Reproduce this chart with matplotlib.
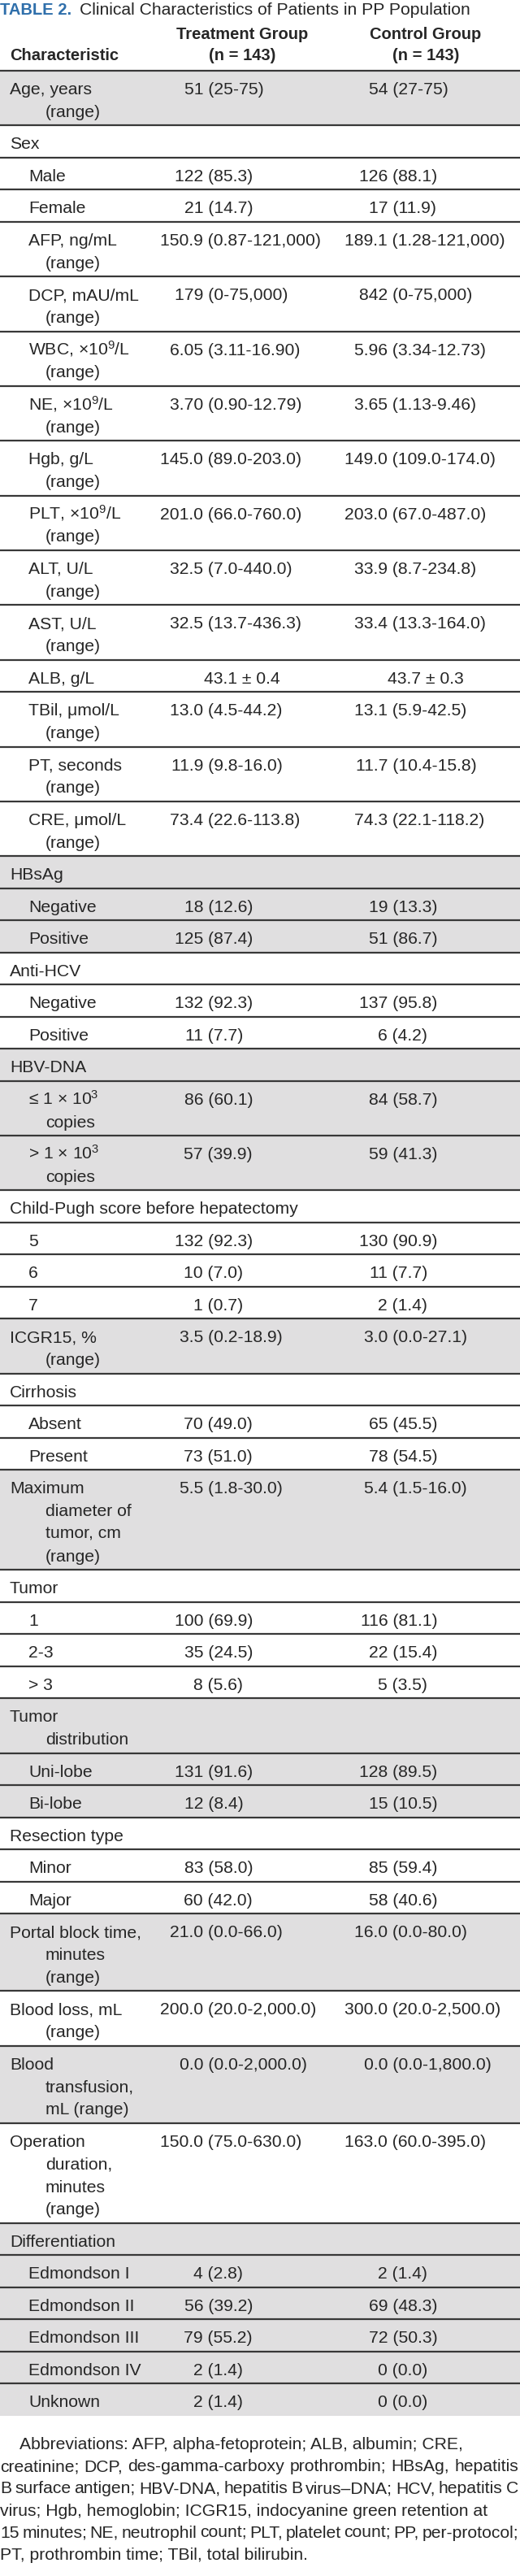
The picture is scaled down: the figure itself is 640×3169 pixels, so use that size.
import matplotlib
matplotlib.use('Agg')
import matplotlib.pyplot as plt
from matplotlib import font_manager as fm
from matplotlib.font_manager import FontProperties
from matplotlib.patches import Rectangle

# table content
table_tag = 'TABLE 2.'
table_title = 'Clinical Characteristics of Patients in PP Population'
header_label = 'Characteristic'
group_names = ['Treatment Group', 'Control Group']
group_sizes = ['(n = 143)', '(n = 143)']

characteristics = [
    'Age, years\n(range)', 'Sex', 'Male', 'Female',
    'AFP, ng/mL\n(range)', 'DCP, mAU/mL\n(range)',
    'WBC, ×10$^{9}$/L\n(range)', 'NE, ×10$^{9}$/L\n(range)',
    'Hgb, g/L\n(range)', 'PLT, ×10$^{9}$/L\n(range)',
    'ALT, U/L\n(range)', 'AST, U/L\n(range)', 'ALB, g/L',
    'TBil, μmol/L\n(range)', 'PT, seconds\n(range)', 'CRE, μmol/L\n(range)',
    'HBsAg', 'Negative', 'Positive',
    'Anti-HCV', 'Negative', 'Positive',
    'HBV-DNA', '≤ 1 × 10$^{3}$\ncopies', '> 1 × 10$^{3}$\ncopies',
    'Child-Pugh score before hepatectomy', '5', '6', '7',
    'ICGR15, %\n(range)',
    'Cirrhosis', 'Absent', 'Present',
    'Maximum\ndiameter of\ntumor, cm\n(range)',
    'Tumor', '1', '2-3', '> 3',
    'Tumor\ndistribution', 'Uni-lobe', 'Bi-lobe',
    'Resection type', 'Minor', 'Major',
    'Portal block time,\nminutes\n(range)',
    'Blood loss, mL\n(range)',
    'Blood\ntransfusion,\nmL (range)',
    'Operation\nduration,\nminutes\n(range)',
    'Differentiation', 'Edmondson I', 'Edmondson II', 'Edmondson III',
    'Edmondson IV', 'Unknown',
]
is_subrow = [
    False, False, True, True,
    True, True, True, True, True, True, True, True, True, True, True, True,
    False, True, True,
    False, True, True,
    False, True, True,
    False, True, True, True,
    False,
    False, True, True,
    False,
    False, True, True, True,
    False, True, True,
    False, True, True,
    False, False, False, False,
    False, True, True, True, True, True,
]
treatment = [
    '51 (25-75)', '', '122 (85.3)', '21 (14.7)',
    '150.9 (0.87-121,000)', '179 (0-75,000)',
    '6.05 (3.11-16.90)', '3.70 (0.90-12.79)',
    '145.0 (89.0-203.0)', '201.0 (66.0-760.0)',
    '32.5 (7.0-440.0)', '32.5 (13.7-436.3)', '43.1 ± 0.4',
    '13.0 (4.5-44.2)', '11.9 (9.8-16.0)', '73.4 (22.6-113.8)',
    '', '18 (12.6)', '125 (87.4)',
    '', '132 (92.3)', '11 (7.7)',
    '', '86 (60.1)', '57 (39.9)',
    '', '132 (92.3)', '10 (7.0)', '1 (0.7)',
    '3.5 (0.2-18.9)',
    '', '70 (49.0)', '73 (51.0)',
    '5.5 (1.8-30.0)',
    '', '100 (69.9)', '35 (24.5)', '8 (5.6)',
    '', '131 (91.6)', '12 (8.4)',
    '', '83 (58.0)', '60 (42.0)',
    '21.0 (0.0-66.0)',
    '200.0 (20.0-2,000.0)',
    '0.0 (0.0-2,000.0)',
    '150.0 (75.0-630.0)',
    '', '4 (2.8)', '56 (39.2)', '79 (55.2)', '2 (1.4)', '2 (1.4)',
]
control = [
    '54 (27-75)', '', '126 (88.1)', '17 (11.9)',
    '189.1 (1.28-121,000)', '842 (0-75,000)',
    '5.96 (3.34-12.73)', '3.65 (1.13-9.46)',
    '149.0 (109.0-174.0)', '203.0 (67.0-487.0)',
    '33.9 (8.7-234.8)', '33.4 (13.3-164.0)', '43.7 ± 0.3',
    '13.1 (5.9-42.5)', '11.7 (10.4-15.8)', '74.3 (22.1-118.2)',
    '', '19 (13.3)', '51 (86.7)',
    '', '137 (95.8)', '6 (4.2)',
    '', '84 (58.7)', '59 (41.3)',
    '', '130 (90.9)', '11 (7.7)', '2 (1.4)',
    '3.0 (0.0-27.1)',
    '', '65 (45.5)', '78 (54.5)',
    '5.4 (1.5-16.0)',
    '', '116 (81.1)', '22 (15.4)', '5 (3.5)',
    '', '128 (89.5)', '15 (10.5)',
    '', '85 (59.4)', '58 (40.6)',
    '16.0 (0.0-80.0)',
    '300.0 (20.0-2,500.0)',
    '0.0 (0.0-1,800.0)',
    '163.0 (60.0-395.0)',
    '', '2 (1.4)', '69 (48.3)', '72 (50.3)', '0 (0.0)', '0 (0.0)',
]

footnote_lines = [
    'Abbreviations: AFP, alpha-fetoprotein; ALB, albumin; CRE,',
    'creatinine; DCP, des-gamma-carboxy prothrombin; HBsAg, hepatitis',
    'B surface antigen; HBV-DNA, hepatitis B virus–DNA; HCV, hepatitis C',
    'virus; Hgb, hemoglobin; ICGR15, indocyanine green retention at',
    '15 minutes; NE, neutrophil count; PLT, platelet count; PP, per-protocol;',
    'PT, prothrombin time; TBil, total bilirubin.',
]
footnote_justified = [False, True, True, False, True, False]

# styling
TEXT = '#262626'
SHADE = '#e0dfe0'
RULE = '#383838'
BLUE = '#2f6fab'
BODY = ['Liberation Sans', 'DejaVu Sans']
SIZE = 15.2

installed = {f.name for f in fm.fontManager.ttflist}
if 'Liberation Sans Narrow' in installed:
    BOLD, HEAD_SIZE, TAG_SIZE = ['Liberation Sans Narrow', 'DejaVu Sans'], 16.5, 17
else:
    BOLD, HEAD_SIZE, TAG_SIZE = BODY, 14.5, 14.5

plt.rcParams['font.family'] = BODY
plt.rcParams['mathtext.fontset'] = 'custom'
plt.rcParams['mathtext.rm'] = 'Liberation Sans'
plt.rcParams['mathtext.it'] = 'Liberation Sans:italic'
plt.rcParams['mathtext.bf'] = 'Liberation Sans:bold'
plt.rcParams['mathtext.default'] = 'regular'

W, H = 640, 3169
fig = plt.figure(figsize=(W / 100, H / 100), dpi=100, facecolor='white')
ax = fig.add_axes([0, 0, 1, 1])
ax.set_xlim(0, W)
ax.set_ylim(H, 0)
ax.axis('off')
renderer = fig.canvas.get_renderer()


def text_width(s, family=BODY, size=SIZE, weight='normal'):
    fp = FontProperties(family=family, size=size, weight=weight)
    w, _, _ = renderer.get_text_width_height_descent(s, fp, ismath=False)
    return w


# title
ax.text(0, 17.5, table_tag, color=BLUE, fontsize=TAG_SIZE, fontweight='bold',
        family=BOLD, va='baseline')
tag_w = text_width(table_tag, BOLD, TAG_SIZE, 'bold')
ax.text(tag_w + 10, 17.5, table_title, color=TEXT, fontsize=SIZE, va='baseline')

# column layout
x_label, x_sub, x_cont = 12, 35, 56
col_center = [298, 524]
col_paren = [256, 483]
row_h, line_step, base_off = 39.5, 27.85, 29

ax.text(x_label, 74, header_label, fontsize=HEAD_SIZE, fontweight='bold',
        family=BOLD, color=TEXT, va='baseline')
for c in range(2):
    ax.text(col_center[c], 48, group_names[c], fontsize=HEAD_SIZE, fontweight='bold',
            family=BOLD, color=TEXT, ha='center', va='baseline')
    ax.text(col_center[c], 74, group_sizes[c], fontsize=HEAD_SIZE, fontweight='bold',
            family=BOLD, color=TEXT, ha='center', va='baseline')

y = 87
ax.hlines(y, 0, W, colors=RULE, lw=1.6, zorder=3)


def put_value(c, yb, s):
    if not s:
        return
    if '(' in s:
        tail = s[s.index('('):]
        x0 = col_paren[c] - (text_width(s) - text_width(tail))
        ax.text(x0, yb, s, fontsize=SIZE, color=TEXT, va='baseline')
    else:
        ax.text(col_center[c], yb, s, fontsize=SIZE, color=TEXT, ha='center',
                va='baseline')


group = -1
n_rows = len(characteristics)
for i in range(n_rows):
    lines = characteristics[i].split('\n')
    h = row_h + line_step * (len(lines) - 1)
    if not is_subrow[i]:
        group += 1
    if group % 2 == 0:
        ax.add_patch(Rectangle((0, y), W, h, facecolor=SHADE, lw=0, zorder=0))
    for k, ln in enumerate(lines):
        x = x_cont if k > 0 else (x_sub if is_subrow[i] else x_label)
        ax.text(x, y + base_off + k * line_step, ln, fontsize=SIZE, color=TEXT,
                va='baseline')
    put_value(0, y + base_off, treatment[i])
    put_value(1, y + base_off, control[i])
    y += h
    if i < n_rows - 1:
        ax.hlines(y, 0, W, colors=RULE, lw=1.6, zorder=3)

# footnote
fy = y + 41
for j, ln in enumerate(footnote_lines):
    x_left = 24 if j == 0 else 0
    if footnote_justified[j]:
        words = ln.split(' ')
        widths = [text_width(w) for w in words]
        gap = (W - 2 - x_left - sum(widths)) / (len(words) - 1)
        x = x_left
        for w, wd in zip(words, widths):
            ax.text(x, fy, w, fontsize=SIZE, color=TEXT, va='baseline')
            x += wd + gap
    else:
        ax.text(x_left, fy, ln, fontsize=SIZE, color=TEXT, va='baseline')
    fy += 27.2

fig.savefig('out.png', dpi=100, facecolor='white')
